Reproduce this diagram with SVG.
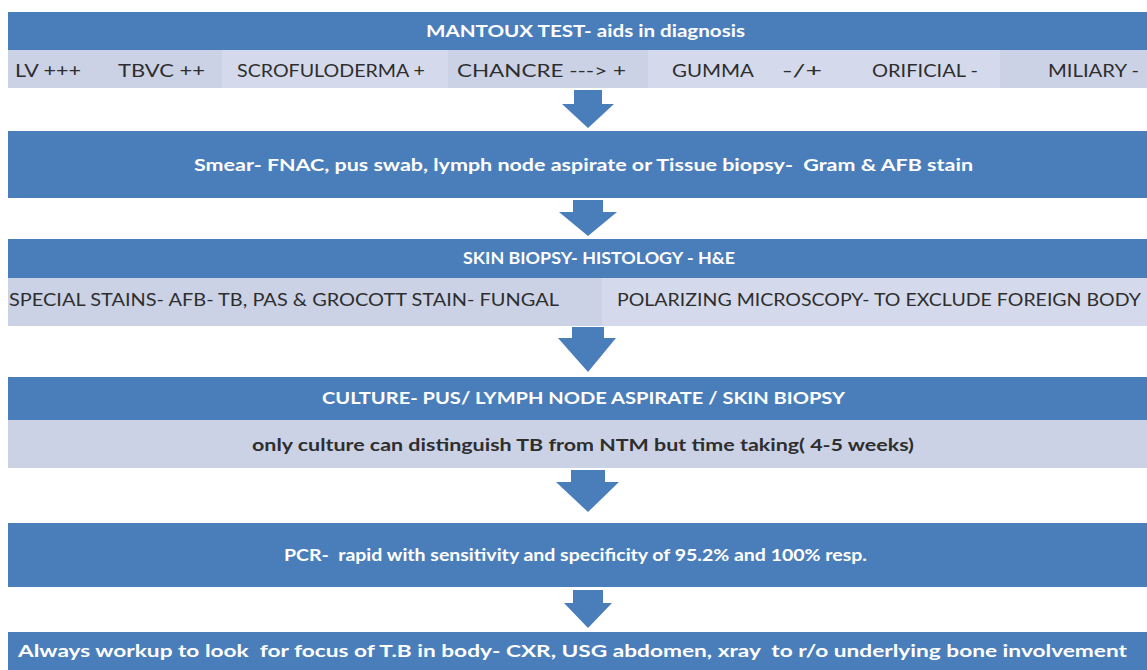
<svg xmlns="http://www.w3.org/2000/svg" width="1147" height="670" viewBox="0 0 1147 670">
<style>
.blue{fill:#4a7ebb}
.light{fill:#cbd2e6}
.lightB{fill:#d4daeb}
.wt{font-family:Lato,"Liberation Sans",sans-serif;font-weight:bold;fill:#ffffff;font-size:17px;white-space:pre}
.dt{font-family:Lato,"Liberation Sans",sans-serif;fill:#2e2e2e;font-size:18px}
.dtb{font-family:Lato,"Liberation Sans",sans-serif;font-weight:bold;fill:#2e2e2e;font-size:17px}
.arrow{fill:#4a7ebb}
</style>
<rect x="0" y="0" width="1147" height="670" fill="#ffffff"/>

<g id="mantoux">
<rect class="blue" x="8" y="12" width="1139" height="38"/>
<text class="wt" x="426" y="37" textLength="319" lengthAdjust="spacingAndGlyphs">MANTOUX TEST- aids in diagnosis</text>
</g>

<g id="mantoux-results">
<rect class="light" x="8" y="50" width="1139" height="38"/>
<rect class="lightB" x="222" y="50" width="226" height="38"/>
<rect class="lightB" x="648" y="50" width="352" height="38"/>
<text class="dt" x="15" y="77" textLength="66" lengthAdjust="spacingAndGlyphs">LV +++</text>
<text class="dt" x="118" y="77" textLength="87" lengthAdjust="spacingAndGlyphs">TBVC ++</text>
<text class="dt" x="237" y="77" textLength="188" lengthAdjust="spacingAndGlyphs">SCROFULODERMA +</text>
<text class="dt" x="457" y="77" textLength="169" lengthAdjust="spacingAndGlyphs">CHANCRE ---&gt; +</text>
<text class="dt" x="672" y="77" textLength="82" lengthAdjust="spacingAndGlyphs">GUMMA</text>
<text class="dt" x="782" y="77" textLength="40" lengthAdjust="spacingAndGlyphs">-/+</text>
<text class="dt" x="872" y="77" textLength="106" lengthAdjust="spacingAndGlyphs">ORIFICIAL -</text>
<text class="dt" x="1048" y="77" textLength="91" lengthAdjust="spacingAndGlyphs">MILIARY -</text>
</g>

<g id="smear">
<rect class="blue" x="8" y="131" width="1139" height="67"/>
<text class="wt" x="194" y="171" textLength="779" lengthAdjust="spacingAndGlyphs" xml:space="preserve">Smear- FNAC, pus swab, lymph node aspirate or Tissue biopsy-  Gram &amp; AFB stain</text>
</g>

<g id="skin-biopsy">
<rect class="blue" x="8" y="239" width="1139" height="39"/>
<text class="wt" x="463" y="264" textLength="272" lengthAdjust="spacingAndGlyphs">SKIN BIOPSY- HISTOLOGY - H&amp;E</text>
</g>

<g id="stains">
<rect class="light" x="8" y="278" width="594" height="48"/>
<rect class="lightB" x="602" y="278" width="545" height="48"/>
<text class="dt" x="9" y="306" textLength="550" lengthAdjust="spacingAndGlyphs">SPECIAL STAINS- AFB- TB, PAS &amp; GROCOTT STAIN- FUNGAL</text>
<text class="dt" x="617" y="306" textLength="524" lengthAdjust="spacingAndGlyphs">POLARIZING MICROSCOPY- TO EXCLUDE FOREIGN BODY</text>
</g>

<g id="culture">
<rect class="blue" x="8" y="377" width="1139" height="43"/>
<text class="wt" x="322" y="404" textLength="523" lengthAdjust="spacingAndGlyphs">CULTURE- PUS/ LYMPH NODE ASPIRATE / SKIN BIOPSY</text>
</g>

<g id="culture-note">
<rect class="light" x="8" y="420" width="1139" height="48"/>
<text class="dtb" x="252" y="451" textLength="662" lengthAdjust="spacingAndGlyphs">only culture can distinguish TB from NTM but time taking( 4-5 weeks)</text>
</g>

<g id="pcr">
<rect class="blue" x="8" y="523" width="1139" height="64"/>
<text class="wt" x="284" y="561" textLength="583" lengthAdjust="spacingAndGlyphs" xml:space="preserve">PCR-  rapid with sensitivity and specificity of 95.2% and 100% resp.</text>
</g>

<g id="workup">
<rect class="blue" x="8" y="632" width="1139" height="38"/>
<text class="wt" x="18" y="657" textLength="1109" lengthAdjust="spacingAndGlyphs" xml:space="preserve">Always workup to look  for focus of T.B in body- CXR, USG abdomen, xray  to r/o underlying bone involvement</text>
</g>

<g id="connectors">
<polygon class="arrow" points="574,90 602,90 602,104 614,104 588,128 562,104 574,104"/>
<polygon class="arrow" points="573,200 603,200 603,212 617,212 588,236 559,212 573,212"/>
<polygon class="arrow" points="572,327 604,327 604,338 616,338 588,372 558,338 572,338"/>
<polygon class="arrow" points="571,470 605,470 605,482 619,482 588,512 556,482 571,482"/>
<polygon class="arrow" points="573,590 603,590 603,603 612,603 588,628 564,603 573,603"/>
</g>
</svg>
